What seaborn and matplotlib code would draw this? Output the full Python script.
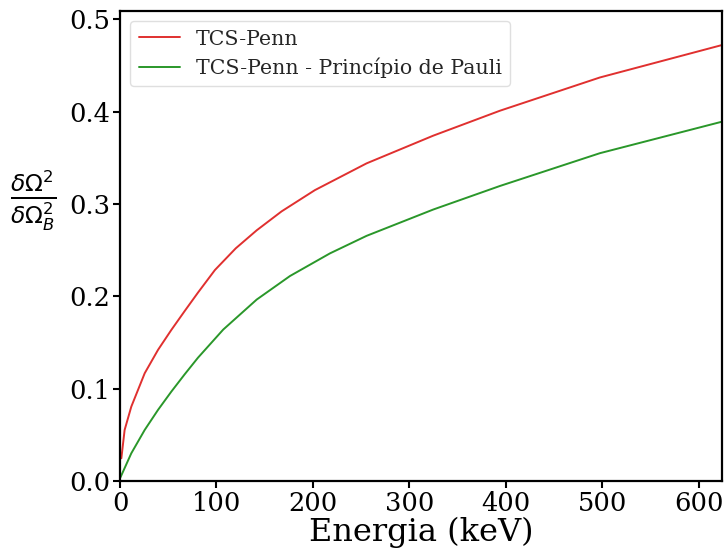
import matplotlib
matplotlib.use("Agg")
import matplotlib.pyplot as plt
import seaborn as sns
import pandas as pd

# Energy (keV) and squared-width ratio for the TCS-Penn model
energia_penn = [1.4, 4.8, 11.7, 25.6, 39.4, 53.2, 67, 80.8, 98.4, 120, 141.7, 167.5, 202,
                255.6, 324.7, 393.8, 497.4, 623.5]
tcs_penn = [0.0246, 0.0553, 0.0805, 0.1167, 0.142, 0.1636, 0.184, 0.204, 0.2285, 0.252,
            0.2715, 0.292, 0.315, 0.344, 0.374, 0.401, 0.437, 0.472]

# Same quantity with the Pauli principle taken into account
energia_pauli = [0.5, 11.7, 25.6, 39.4, 53.2, 67, 80.8, 107, 141.7, 176.2, 217.6, 255.6,
                 324.7, 393.8, 497.4, 623.5]
tcs_penn_pauli = [0.004, 0.030, 0.0553, 0.077, 0.0968, 0.1155, 0.1335, 0.164, 0.1965,
                  0.222, 0.2465, 0.2655, 0.294, 0.3195, 0.355, 0.389]

labels = ["TCS-Penn", "TCS-Penn - Princípio de Pauli"]
colors = ["#e0302f", "#2a972a"]

df = pd.concat([
    pd.DataFrame({"E": energia_penn, "r": tcs_penn, "modelo": labels[0]}),
    pd.DataFrame({"E": energia_pauli, "r": tcs_penn_pauli, "modelo": labels[1]}),
])

sns.set_theme(style="ticks")
plt.rcParams["font.family"] = ["DejaVu Serif"]
plt.rcParams["mathtext.fontset"] = "dejavusans"

fig = plt.figure(figsize=(7.24, 5.51), dpi=100)
ax = fig.add_axes([120 / 724, 1 - 481 / 551, 602 / 724, 470 / 551])

sns.lineplot(data=df, x="E", y="r", hue="modelo", palette=colors, ax=ax,
             linewidth=1.4, sort=False)

ax.set_xlim(0, 624)
ax.set_ylim(0, 0.509)
ax.set_xticks([0, 100, 200, 300, 400, 500, 600])
ax.set_yticks([0.0, 0.1, 0.2, 0.3, 0.4, 0.5])
ax.tick_params(axis="both", labelsize=18.5, length=5, width=1.5, color="black",
               labelcolor="black", direction="out", pad=2)

for side in ["top", "right", "bottom", "left"]:
    ax.spines[side].set_visible(True)
    ax.spines[side].set_color("black")
    ax.spines[side].set_linewidth(1.6)

ax.set_xlabel("Energia (keV)", fontsize=23, labelpad=1, color="black")
ax.set_ylabel(r"$\frac{\delta\Omega^2}{\delta\Omega_B^2}$", fontsize=24, rotation=0,
              color="black", va="center", family="DejaVu Sans")
ax.yaxis.set_label_coords(-0.145, 0.595)

leg = ax.legend(loc="upper left", fontsize=14.8, frameon=True, fancybox=True,
                handlelength=2.0, borderpad=0.4, labelspacing=0.45,
                bbox_to_anchor=(0.0, 1.0))
leg.set_title(None)
leg.get_frame().set_edgecolor("#d8d8d8")

fig.savefig("out.png", dpi=100)
